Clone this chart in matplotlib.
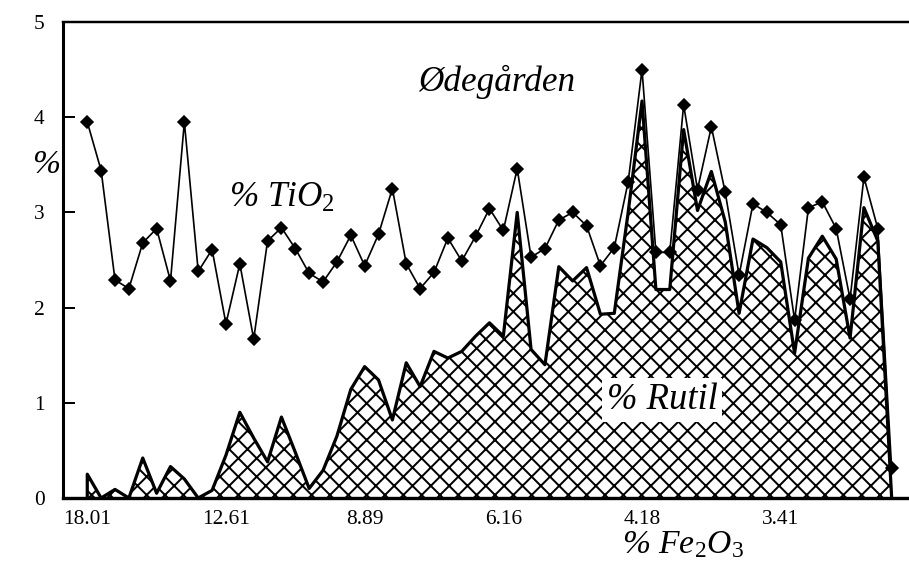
import numpy as np
import matplotlib
matplotlib.use("Agg")
import matplotlib.pyplot as plt

plt.rcParams['font.family'] = ['Liberation Serif', 'DejaVu Serif']
plt.rcParams['mathtext.fontset'] = 'custom'
plt.rcParams['mathtext.rm'] = 'Liberation Serif'
plt.rcParams['mathtext.it'] = 'Liberation Serif:italic'
plt.rcParams['hatch.linewidth'] = 1.3

# % TiO2 for each sample (diamond markers)
tio2 = [3.95, 3.44, 2.29, 2.20, 2.68, 2.83, 2.28, 3.95, 2.38, 2.61,
        1.83, 2.46, 1.67, 2.70, 2.84, 2.62, 2.36, 2.27, 2.48, 2.76,
        2.44, 2.77, 3.25, 2.46, 2.20, 2.37, 2.73, 2.49, 2.75, 3.04,
        2.81, 3.46, 2.53, 2.62, 2.92, 3.00, 2.86, 2.44, 2.63, 3.32,
        4.50, 2.58, 2.58, 4.13, 3.24, 3.90, 3.21, 2.34, 3.09, 3.00,
        2.87, 1.87, 3.05, 3.11, 2.83, 2.09, 3.37, 2.83, 0.31]

# % Rutil (hatched area)
rutil = [0.25, 0.00, 0.09, 0.00, 0.42, 0.05, 0.33, 0.20, 0.00, 0.08,
         0.45, 0.90, 0.63, 0.38, 0.85, 0.48, 0.10, 0.29, 0.65, 1.14,
         1.38, 1.24, 0.82, 1.42, 1.17, 1.54, 1.47, 1.54, 1.70, 1.84,
         1.70, 3.00, 1.56, 1.40, 2.43, 2.28, 2.42, 1.93, 1.94, 3.00,
         4.17, 2.19, 2.19, 3.87, 3.02, 3.43, 2.90, 1.94, 2.72, 2.63,
         2.48, 1.52, 2.52, 2.75, 2.51, 1.68, 3.05, 2.70, 0.00]

tick_pos = [0, 10, 20, 30, 40, 50]
tick_labels = ['18.01', '12.61', '8.89', '6.16', '4.18', '3.41']

x = np.arange(len(tio2))

fig = plt.figure(figsize=(909 / 110, 572 / 110), dpi=110)
ax = fig.add_axes([63 / 909, 74 / 572, 846 / 909, 476 / 572])

# hatched rutil area with thick outline
ax.fill_between(x, rutil, 0, facecolor='white', edgecolor='black',
                hatch='xx', linewidth=0)
ax.plot(np.r_[x[0], x], np.r_[0, rutil], color='black', lw=2.1)

# TiO2 line with diamonds
ax.plot(x, tio2, color='black', lw=1.1, marker='D', markersize=5.5)

ax.set_xlim(-1.75, 59.25)
ax.set_ylim(0, 5)
ax.set_xticks(tick_pos)
ax.set_xticklabels(tick_labels)
ax.set_yticks(range(6))
ax.tick_params(axis='x', length=0, pad=8, labelsize=14)
ax.tick_params(axis='y', direction='in', length=8, width=1.3, pad=12, labelsize=14)

ax.spines['right'].set_visible(False)
ax.spines['left'].set_linewidth(2)
ax.spines['bottom'].set_linewidth(2.2)
ax.spines['top'].set_linewidth(1.6)

ax.text(0.513, 0.874, 'Ødegården', transform=ax.transAxes, fontsize=23,
        style='italic', ha='center', va='center')
ax.text(0.259, 0.630, '% TiO$_2$', transform=ax.transAxes, fontsize=23,
        style='italic', ha='center', va='center')
ax.text(0.708, 0.206, '% Rutil', transform=ax.transAxes, fontsize=24,
        style='italic', ha='center', va='center',
        bbox=dict(facecolor='white', edgecolor='none', pad=3))
ax.text(0.733, -0.099, '% Fe$_2$O$_3$', transform=ax.transAxes, fontsize=22,
        style='italic', ha='center', va='center', clip_on=False)
ax.text(-0.020, 0.70, '%', transform=ax.transAxes, fontsize=22,
        style='italic', ha='center', va='center', clip_on=False)

plt.savefig('out.png', dpi=110)
